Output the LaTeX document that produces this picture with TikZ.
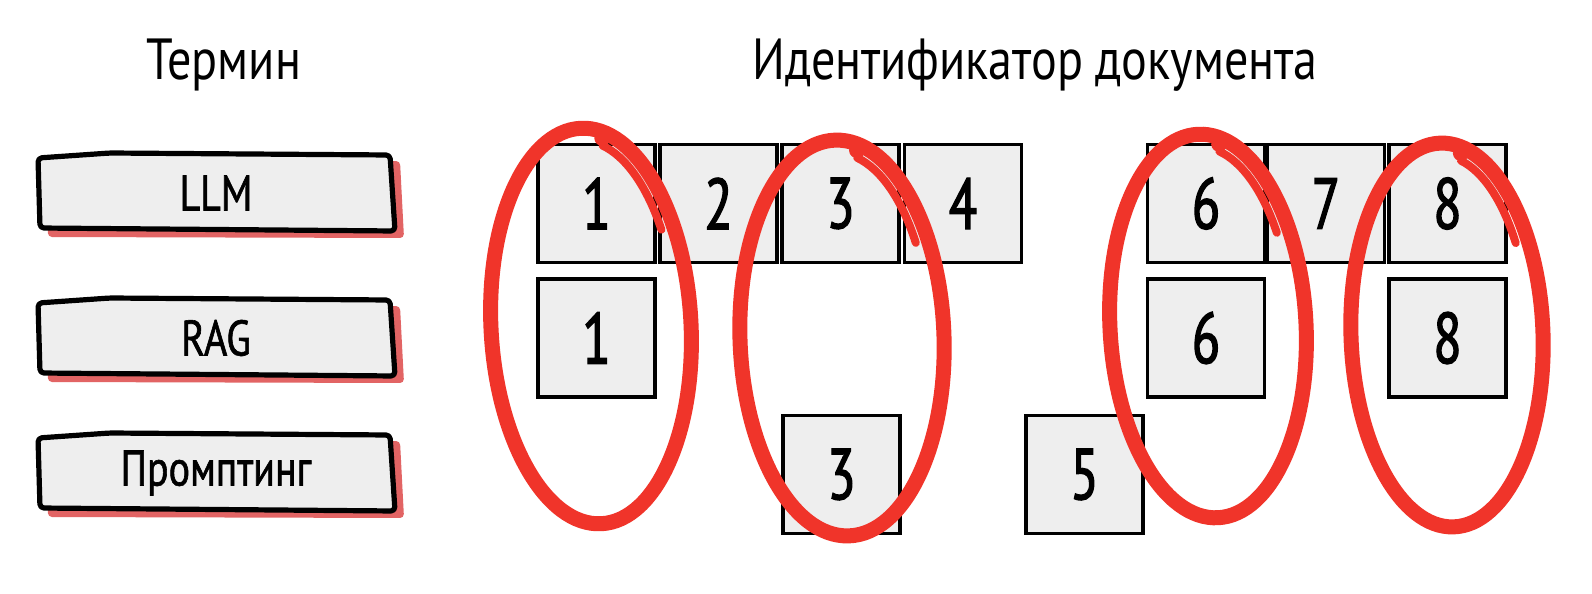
\documentclass[tikz,border=0pt]{standalone}
\usepackage{fontspec}
\setmainfont{PT Sans}[FakeStretch=0.83]
\newfontfamily\labelfont{PT Sans}[FakeStretch=0.8, FakeBold=1.2]
\newfontfamily\digitfont{PT Sans}[FakeStretch=0.72, FakeBold=1.8]
\definecolor{pen}{RGB}{240,52,42}
\definecolor{shadowred}{RGB}{226,100,100}
\definecolor{boxfill}{RGB}{238,238,238}
\tikzset{
  sq/.style={draw=black, line width=1.8pt, fill=boxfill, minimum width=58.5pt, minimum height=59pt, inner sep=0pt, font=\digitfont\fontsize{36}{36}\selectfont},
  termbox/.style={draw=black, line width=2.6pt, fill=boxfill, line join=round, rounded corners=2pt},
  termshadow/.style={fill=shadowred, draw=none, rounded corners=2pt},
  termtext/.style={inner sep=0pt, font=\labelfont\fontsize{25}{25}\selectfont},
  title/.style={inner sep=0pt, anchor=base, font=\fontsize{29}{29}\selectfont},
  redpen/.style={draw=pen, line width=7.5pt},
  redthin/.style={draw=pen, line width=4pt, line cap=round}
}
\begin{document}
\begin{tikzpicture}[x=0.5pt,y=-0.5pt]
\useasboundingbox (0,0) rectangle (1592,594);
\fill[white] (0,0) rectangle (1592,594);
% titles
\node[title] (tterm) at (224,79) {Термин};
\node[title] (tid) at (1035,79) {Идентификатор документа};
% term boxes
\foreach \dy/\nm/\txt in {0/llm/LLM, 145/rag/RAG, 280/prm/Промптинг}{
  \fill[termshadow] (46,{164+\dy}) -- (400,{161+\dy}) -- (404,{238+\dy}) -- (48,{237+\dy}) -- cycle;
  \draw[termbox] (38,{158+\dy}) -- (110,{153+\dy}) -- (390,{155+\dy}) -- (395,{231+\dy}) -- (40,{228+\dy}) -- cycle;
  \node[termtext] (\nm) at (216,{193+\dy}) {\txt};
}
% squares row 1
\node[sq] (a1) at (596.5,203.5) {1};
\node[sq] (a2) at (718.5,203.5) {2};
\node[sq] (a3) at (840.5,203.5) {3};
\node[sq] (a4) at (963,203.5) {4};
\node[sq] (a6) at (1206,203.5) {6};
\node[sq] (a7) at (1326,203.5) {7};
\node[sq] (a8) at (1447.5,203.5) {8};
% row 2
\node[sq] (b1) at (596.5,338) {1};
\node[sq] (b6) at (1206,338) {6};
\node[sq] (b8) at (1447.5,338) {8};
% row 3
\node[sq] (c3) at (841.5,474.5) {3};
\node[sq] (c5) at (1084.5,474.5) {5};
% ellipses
\foreach \cx/\cy/\rot/\rx/\ry in {591/326/3/50/99, 842/338/2/51/99, 1208/326/3/49/96, 1447/335/2/48/96}{
  \pgfmathsetmacro\irx{\rx-6.5}
  \pgfmathsetmacro\iry{\ry-6.5}
  \pgfmathsetmacro\brx{\rx-3}
  \pgfmathsetmacro\bry{\ry-3}
  \begin{scope}[shift={(\cx,\cy)}, rotate=\rot]
    \draw[redpen] (0,0) ellipse [x radius=\rx pt, y radius=\ry pt];
    \draw[redthin] (76:\irx pt and \iry pt) arc[start angle=76, end angle=30, x radius=\irx pt, y radius=\iry pt];
    \fill[pen] (77:\brx pt and \bry pt) circle (4pt);
  \end{scope}
}
\end{tikzpicture}
\end{document}
